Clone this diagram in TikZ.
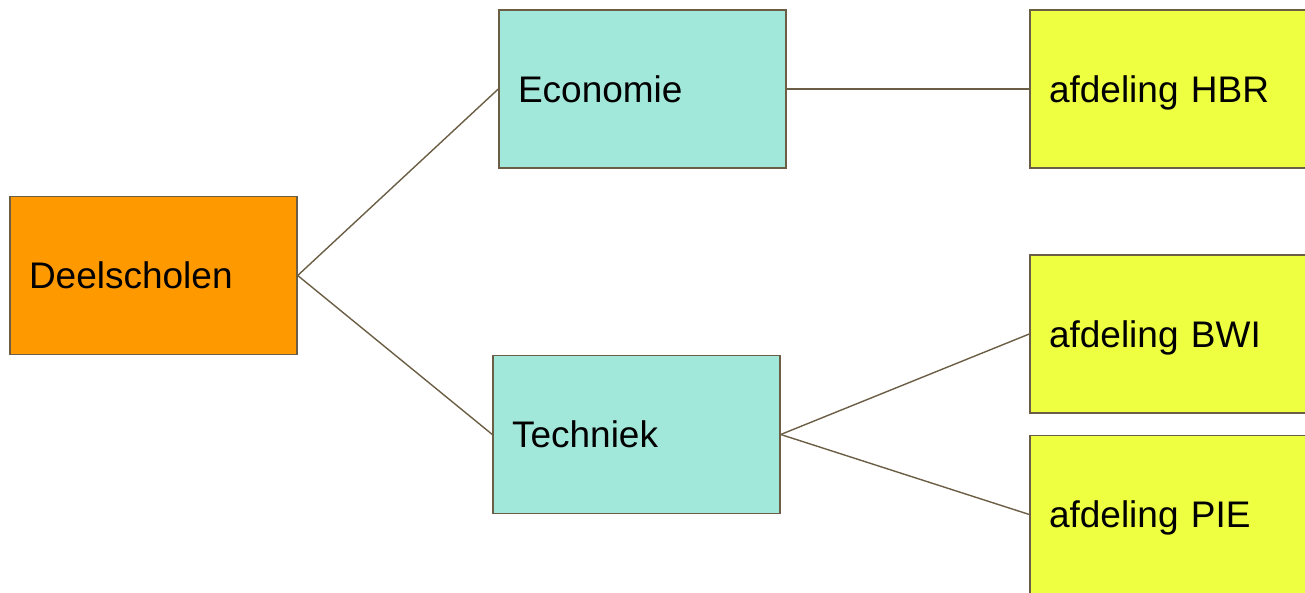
\documentclass[tikz,border=0pt]{standalone}
\usepackage{fontspec}
\setmainfont{Liberation Sans}
\definecolor{edgec}{HTML}{6B5E45}
\definecolor{orangec}{HTML}{FF9900}
\definecolor{tealc}{HTML}{A2E8DA}
\definecolor{yellowc}{HTML}{EEFF41}
\tikzset{
  box/.style={draw=edgec, line width=1.4pt, minimum width=287pt, minimum height=158pt,
    text width=249pt, inner xsep=19pt, align=left, text depth=0pt,
    font=\fontsize{37}{40}\selectfont},
  link/.style={draw=edgec, line width=1.4pt}
}
\begin{document}
\begin{tikzpicture}[x=1pt,y=-1pt]
\useasboundingbox (0,0) rectangle (1305,593);
\clip (0,0) rectangle (1305,593);
\node[box, fill=orangec] (d) at (153.5,275.5) {Deelscholen};
\node[box, fill=tealc] (e) at (642.5,89) {Economie};
\node[box, fill=tealc] (t) at (636.5,434.5) {Techniek};
\node[box, fill=yellowc] (h) at (1173.5,89) {afdeling HBR};
\node[box, fill=yellowc] (b) at (1173.5,334) {afdeling BWI};
\node[box, fill=yellowc] (p) at (1173.5,514.5) {afdeling PIE};
\draw[link] (d.east) -- (e.west);
\draw[link] (d.east) -- (t.west);
\draw[link] (e.east) -- (h.west);
\draw[link] (t.east) -- (b.west);
\draw[link] (t.east) -- (p.west);
\end{tikzpicture}
\end{document}
